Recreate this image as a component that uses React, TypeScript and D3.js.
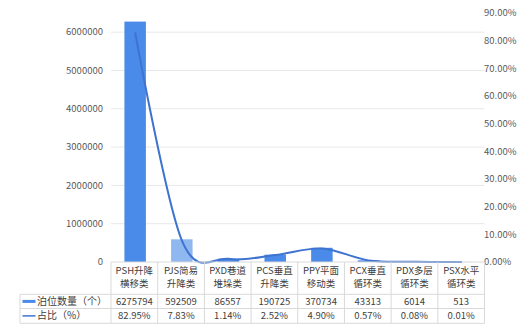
import React from "react";
import * as d3 from "d3";

const categories = ["PSH升降横移类", "PJS简易升降类", "PXD巷道堆垛类", "PCS垂直升降类", "PPY平面移动类", "PCX垂直循环类", "PDX多层循环类", "PSX水平循环类"];
const categoryLine1 = ["PSH升降", "PJS简易", "PXD巷道", "PCS垂直", "PPY平面", "PCX垂直", "PDX多层", "PSX水平"];
const categoryLine2 = ["横移类", "升降类", "堆垛类", "升降类", "移动类", "循环类", "循环类", "循环类"];
const counts = [6275794, 592509, 86557, 190725, 370734, 43313, 6014, 513];
const shares = [0.8295, 0.0783, 0.0114, 0.0252, 0.049, 0.0057, 0.0008, 0.0001];
const leftTicks = [0, 1000000, 2000000, 3000000, 4000000, 5000000, 6000000];
const rightTicks = [0, 0.1, 0.2, 0.3, 0.4, 0.5, 0.6, 0.7, 0.8, 0.9];
const seriesNames = ["泊位数量（个）", "占比（%）"];

const W = 528;
const H = 333;
const FONT = "'Noto Sans CJK SC', 'Noto Sans', sans-serif";
const BAR = "#4A8AE8";
const BAR_LIGHT = "#8FB8F0";
const LIGHT_INDEX = 1;
const LINE = "#3F73D0";
const GRID = "#E8E8E8";
const TABLE = "#D9D9D9";
const AXIS_TEXT = "#595959";
const TABLE_TEXT = "#404040";

export default function App() {
  const plotLeft = 111;
  const plotRight = 484.5;
  const plotTop = 13;
  const plotBottom = 262;
  const row1 = 294.3;
  const row2 = 308.5;
  const row3 = 323.3;
  const tableLeft = 20;

  const x = d3.scaleBand<string>().domain(categories).range([plotLeft, plotRight]).padding(0);
  const yL = d3.scaleLinear().domain([0, 6500000]).range([plotBottom, plotTop]);
  const yR = d3.scaleLinear().domain([0, 0.9]).range([plotBottom, plotTop]);
  const bw = x.bandwidth();
  const barW = bw * 0.46;
  const cx = (c: string) => (x(c) ?? 0) + bw / 2;

  const line = d3
    .line<number>()
    .x((_, i) => cx(categories[i]) + 0.8)
    .y((d) => yR(d))
    .curve(d3.curveCardinal.tension(0));

  const pctFmt = d3.format(".2%");
  const boundaries = categories.map((c) => x(c) ?? 0).concat([plotRight]);

  return (
    <svg
      width={W}
      height={H}
      style={{ position: "absolute", left: 0, top: 0, background: "#fff" }}
      fontFamily={FONT}
    >
      <rect x={0} y={0} width={W} height={H} fill="#fff" />
      {/* gridlines */}
      {leftTicks.slice(1).map((t) => (
        <line key={t} x1={plotLeft} x2={plotRight} y1={yL(t)} y2={yL(t)} stroke={GRID} strokeWidth={1} />
      ))}
      {/* left ticks */}
      {leftTicks.map((t) => (
        <text key={t} x={103} y={yL(t)} dy="0.35em" textAnchor="end" fontSize={9.5} fill={AXIS_TEXT}>
          {String(t)}
        </text>
      ))}
      {/* right ticks */}
      {rightTicks.map((t) => (
        <text key={t} x={484} y={yR(t)} dy="0.35em" textAnchor="start" fontSize={9.5} fill={AXIS_TEXT}>
          {pctFmt(t)}
        </text>
      ))}
      {/* bars */}
      {categories.map((c, i) => (
        <rect
          key={c}
          x={cx(c) - barW / 2 + 0.8}
          y={yL(counts[i])}
          width={barW}
          height={plotBottom - yL(counts[i])}
          fill={i === LIGHT_INDEX ? BAR_LIGHT : BAR}
        />
      ))}
      {/* line */}
      <path d={line(shares) ?? ""} fill="none" stroke={LINE} strokeWidth={2} />
      {/* table */}
      <line x1={plotLeft} x2={plotRight} y1={plotBottom} y2={plotBottom} stroke={TABLE} />
      {[row1, row2, row3].map((y) => (
        <line key={y} x1={tableLeft} x2={plotRight} y1={y} y2={y} stroke={TABLE} />
      ))}
      <line x1={tableLeft} x2={tableLeft} y1={row1} y2={row3} stroke={TABLE} />
      {boundaries.map((b, i) => (
        <line key={i} x1={b} x2={b} y1={plotBottom} y2={row3} stroke={TABLE} />
      ))}
      {categories.map((c, i) => (
        <g key={c} fontSize={9.5} fill={TABLE_TEXT} textAnchor="middle">
          <text x={cx(c)} y={270.5} dy="0.35em">{categoryLine1[i]}</text>
          <text x={cx(c)} y={284} dy="0.35em">{categoryLine2[i]}</text>
          <text x={cx(c)} y={(row1 + row2) / 2} dy="0.35em">{String(counts[i])}</text>
          <text x={cx(c)} y={(row2 + row3) / 2} dy="0.35em">{pctFmt(shares[i])}</text>
        </g>
      ))}
      {/* row labels with legend keys */}
      <rect x={22.5} y={(row1 + row2) / 2 - 1.5} width={13} height={3} fill={BAR} />
      <text x={37} y={(row1 + row2) / 2} dy="0.35em" fontSize={10} fill={TABLE_TEXT}>
        {seriesNames[0]}
      </text>
      <line x1={22.5} x2={35.5} y1={(row2 + row3) / 2} y2={(row2 + row3) / 2} stroke={LINE} strokeWidth={1.5} />
      <text x={37} y={(row2 + row3) / 2} dy="0.35em" fontSize={10} fill={TABLE_TEXT}>
        {seriesNames[1]}
      </text>
    </svg>
  );
}
